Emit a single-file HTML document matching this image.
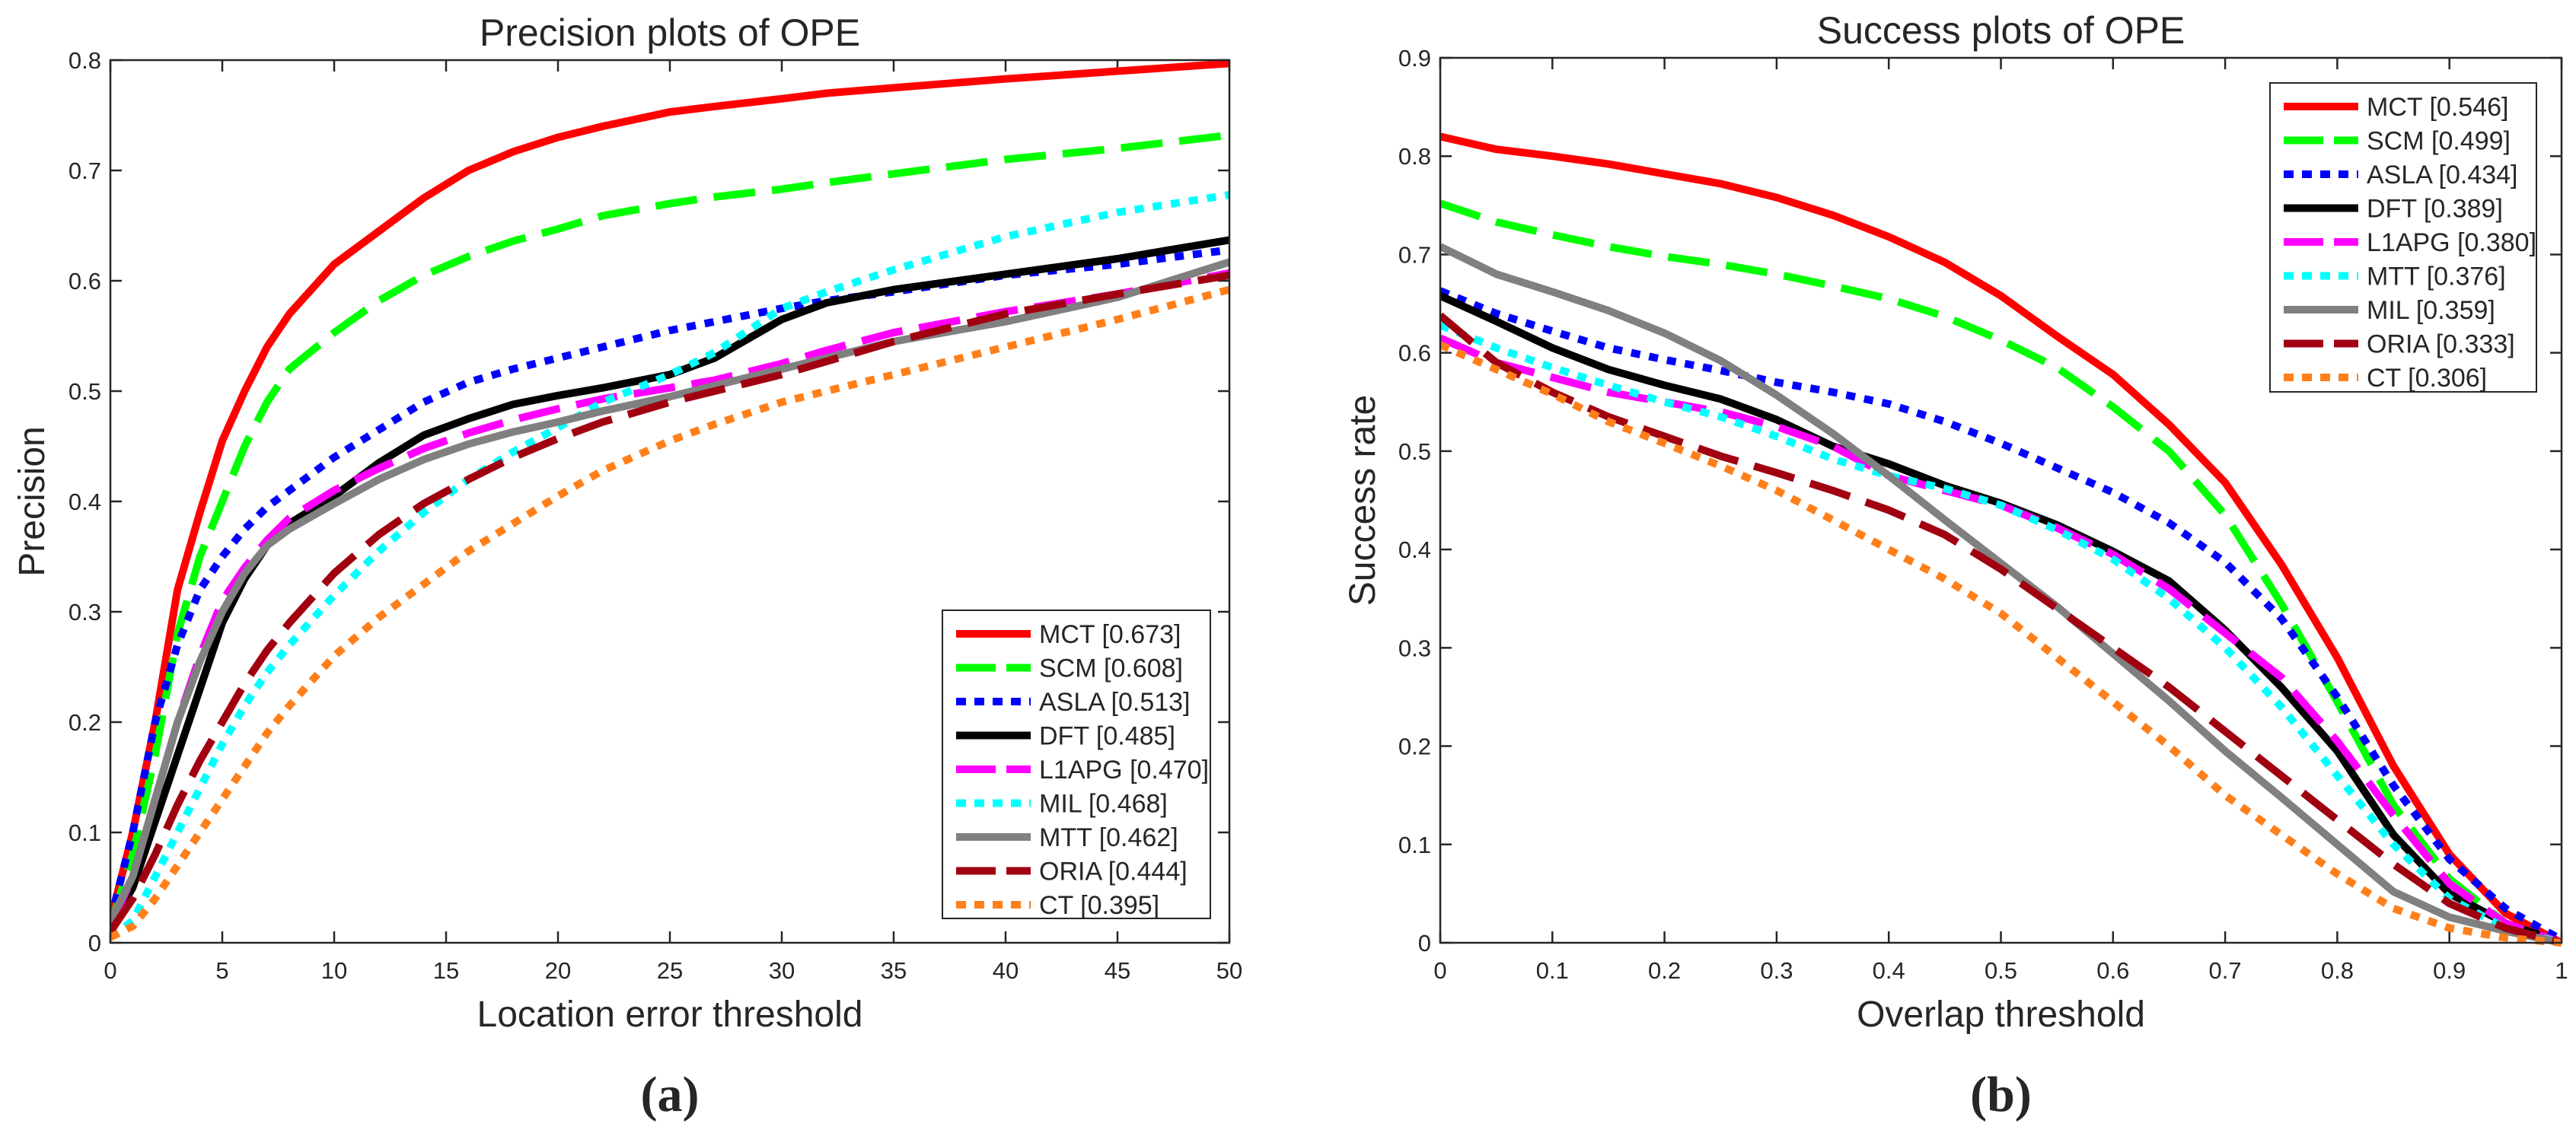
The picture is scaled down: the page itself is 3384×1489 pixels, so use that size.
<!DOCTYPE html>
<html><head><meta charset="utf-8"><style>
html,body{margin:0;padding:0;background:#fff}
svg{display:block}
text{font-family:"Liberation Sans",sans-serif;fill:#262626}
</style></head><body>
<svg id="fig" width="3384" height="1489" viewBox="0 0 3384 1489" xmlns="http://www.w3.org/2000/svg"></svg>
<script>
// ---------- Chart (a): Precision ----------
const precX = [0,1,2,3,4,5,6,7,8,10,12,14,16,18,20,22,25,27,30,32,35,40,45,50];
const precMCT  = [0.02,0.10,0.20,0.32,0.39,0.455,0.50,0.54,0.57,0.615,0.645,0.675,0.70,0.717,0.73,0.74,0.753,0.758,0.765,0.77,0.775,0.783,0.79,0.797];
const precSCM  = [0.015,0.08,0.17,0.28,0.35,0.40,0.45,0.49,0.52,0.553,0.582,0.605,0.622,0.636,0.647,0.659,0.67,0.676,0.683,0.689,0.697,0.71,0.72,0.732];
const precASLA = [0.02,0.10,0.20,0.27,0.32,0.35,0.375,0.395,0.41,0.44,0.465,0.49,0.508,0.52,0.53,0.54,0.555,0.563,0.575,0.582,0.59,0.605,0.615,0.628];
const precDFT  = [0.015,0.05,0.11,0.17,0.23,0.29,0.33,0.36,0.38,0.405,0.435,0.46,0.475,0.488,0.496,0.503,0.515,0.53,0.565,0.58,0.592,0.606,0.62,0.637];
const precL1   = [0.015,0.06,0.13,0.20,0.26,0.31,0.34,0.365,0.385,0.41,0.43,0.448,0.462,0.474,0.484,0.493,0.503,0.51,0.525,0.537,0.553,0.572,0.588,0.607];
const precMIL  = [0.005,0.02,0.06,0.10,0.14,0.18,0.215,0.245,0.27,0.315,0.355,0.39,0.42,0.445,0.467,0.49,0.515,0.535,0.575,0.59,0.61,0.64,0.662,0.678];
const precMTT  = [0.02,0.06,0.13,0.20,0.255,0.30,0.335,0.36,0.375,0.398,0.42,0.438,0.452,0.463,0.472,0.482,0.495,0.505,0.52,0.53,0.545,0.563,0.585,0.617];
const precORIA = [0.01,0.04,0.08,0.125,0.165,0.20,0.235,0.265,0.29,0.335,0.37,0.398,0.42,0.44,0.457,0.472,0.49,0.50,0.515,0.527,0.545,0.57,0.588,0.605];
const precCT   = [0.005,0.015,0.04,0.07,0.10,0.13,0.16,0.19,0.215,0.26,0.295,0.325,0.355,0.38,0.405,0.428,0.455,0.47,0.49,0.50,0.515,0.54,0.565,0.592];
const precXTicks = [0,5,10,15,20,25,30,35,40,45,50];
const precYTicks = [0,0.1,0.2,0.3,0.4,0.5,0.6,0.7,0.8];
const precLegend = ["MCT [0.673]","SCM [0.608]","ASLA [0.513]","DFT [0.485]","L1APG [0.470]","MIL [0.468]","MTT [0.462]","ORIA [0.444]","CT [0.395]"];

// ---------- Chart (b): Success ----------
const succX = [0,0.05,0.1,0.15,0.2,0.25,0.3,0.35,0.4,0.45,0.5,0.55,0.6,0.65,0.7,0.75,0.8,0.85,0.9,0.95,1];
const succMCT  = [0.82,0.807,0.8,0.792,0.782,0.772,0.758,0.74,0.718,0.692,0.658,0.617,0.578,0.527,0.468,0.385,0.29,0.18,0.09,0.03,0];
const succSCM  = [0.752,0.733,0.72,0.708,0.698,0.69,0.68,0.668,0.655,0.637,0.613,0.585,0.545,0.5,0.435,0.345,0.245,0.14,0.065,0.02,0];
const succASLA = [0.663,0.64,0.622,0.605,0.593,0.582,0.57,0.56,0.548,0.53,0.508,0.483,0.458,0.427,0.387,0.33,0.25,0.16,0.085,0.035,0.003];
const succDFT  = [0.658,0.632,0.605,0.583,0.567,0.553,0.532,0.505,0.487,0.465,0.447,0.425,0.398,0.368,0.318,0.26,0.195,0.11,0.05,0.02,0];
const succL1   = [0.615,0.59,0.575,0.56,0.55,0.54,0.525,0.505,0.475,0.46,0.445,0.422,0.395,0.36,0.315,0.27,0.205,0.13,0.06,0.02,0];
const succMTT  = [0.628,0.605,0.585,0.567,0.55,0.535,0.515,0.492,0.475,0.462,0.445,0.42,0.39,0.35,0.3,0.24,0.17,0.1,0.045,0.015,0];
const succMIL  = [0.708,0.68,0.662,0.643,0.62,0.592,0.557,0.518,0.475,0.43,0.386,0.342,0.294,0.246,0.195,0.148,0.1,0.052,0.026,0.012,0];
const succORIA = [0.638,0.59,0.56,0.535,0.515,0.495,0.478,0.46,0.44,0.415,0.38,0.34,0.3,0.26,0.215,0.17,0.125,0.08,0.04,0.015,0];
const succCT   = [0.608,0.583,0.558,0.53,0.508,0.485,0.46,0.43,0.4,0.37,0.335,0.29,0.245,0.2,0.15,0.11,0.07,0.035,0.015,0.005,0];
const succXTicks = [0,0.1,0.2,0.3,0.4,0.5,0.6,0.7,0.8,0.9,1];
const succYTicks = [0,0.1,0.2,0.3,0.4,0.5,0.6,0.7,0.8,0.9];
const succLegend = ["MCT [0.546]","SCM [0.499]","ASLA [0.434]","DFT [0.389]","L1APG [0.380]","MTT [0.376]","MIL [0.359]","ORIA [0.333]","CT [0.306]"];

const NS = "http://www.w3.org/2000/svg";
const svg = document.getElementById('fig');
function mk(tag, attrs, parent){ const e=document.createElementNS(NS,tag); for(const k in attrs) e.setAttribute(k,attrs[k]); (parent||svg).appendChild(e); return e; }

const STY = {
  red:{c:"#ff0000",d:""}, green:{c:"#00ff00",d:"55 22"}, blue:{c:"#0000ff",d:"12 12"},
  black:{c:"#000000",d:""}, magenta:{c:"#ff00ff",d:"55 22"}, cyan:{c:"#00ffff",d:"12 12"},
  gray:{c:"#808080",d:""}, dred:{c:"#a00010",d:"55 22"}, orange:{c:"#ff7f1a",d:"12 12"}
};

function chart(cfg){
  const g = mk('g',{});
  
  
  const {L,R,T,B,xmin,xmax,ymax} = cfg;
  const sx = v => L + (v - xmin)/(xmax - xmin)*(R-L);
  const sy = v => B - v/ymax*(B-T);
  cfg.xTicks.forEach(t=>{
    const x=sx(t);
    const tk=mk('path',{d:`M${x},${B}V${B-15}M${x},${T}V${T+15}`,stroke:"#262626","stroke-width":2.5},g);
    
    
    const tx=mk('text',{x:x,y:B+47,"font-size":31,"text-anchor":"middle"},g);
    tx.textContent=String(t);
    
    
  });
  cfg.yTicks.forEach(t=>{
    const y=sy(t);
    const tk=mk('path',{d:`M${L},${y}H${L+15}M${R},${y}H${R-15}`,stroke:"#262626","stroke-width":2.5},g);
    
    
    const tx=mk('text',{x:L-12,y:y+11,"font-size":31,"text-anchor":"end"},g);
    tx.textContent=String(t);
    
    
  });
  const clip = mk('clipPath',{id:cfg.name+'-clip'},g);
  mk('rect',{x:L,y:T-6,width:R-L,height:B-T+12},clip);
  cfg.series.forEach(s=>{
    const st=STY[s.style];
    const d=cfg.x.map((xv,i)=>(i?'L':'M')+sx(xv).toFixed(1)+','+sy(s.v[i]).toFixed(1)).join('');
    const p=mk('path',{d:d,fill:"none",stroke:st.c,"stroke-width":10,"stroke-linejoin":"round","clip-path":`url(#${cfg.name}-clip)`},g);
    if(st.d) p.setAttribute('stroke-dasharray',st.d);
    
    
  });
  const box=mk('rect',{x:L,y:T,width:R-L,height:B-T,fill:"none",stroke:"#262626","stroke-width":2.5},g);
  
  
  const ti=mk('text',{x:(L+R)/2,y:cfg.titleY,"font-size":50,"text-anchor":"middle",fill:"#000"},g);
  ti.textContent=cfg.title;
  
  
  const xl=mk('text',{x:(L+R)/2,y:1349,"font-size":48,"text-anchor":"middle"},g);
  xl.textContent=cfg.xLabel;
  
  
  const yl=mk('text',{x:0,y:0,"font-size":48,"text-anchor":"middle",transform:`translate(${cfg.yLabelX},${(T+B)/2}) rotate(-90)`},g);
  yl.textContent=cfg.yLabel;
  
  
  const cap=mk('text',{x:(L+R)/2,y:1460,"font-size":66,"font-weight":"bold","text-anchor":"middle",fill:"#000",style:"font-family:'Liberation Serif',serif"},g);
  cap.textContent=cfg.caption;
  
  
  const lg=mk('g',{},g);
  
  
  const [lx,ly,lw,lh]=cfg.legendBox;
  mk('rect',{x:lx,y:ly,width:lw,height:lh,fill:"#fff",stroke:"#262626","stroke-width":2},lg);
  cfg.series.forEach((s,i)=>{
    const st=STY[s.style];
    const cy=ly+31+i*44.5;
    const e=mk('g',{},lg);
    
    
    const ln=mk('line',{x1:lx+18,x2:lx+116,y1:cy,y2:cy,stroke:st.c,"stroke-width":10},e);
    if(st.d) ln.setAttribute('stroke-dasharray', st.d==="12 12"?"13 11":"52 14");
    const t=mk('text',{x:lx+127,y:cy+12,"font-size":34,fill:"#000"},e);
    t.textContent=cfg.legend[i];
  });
}

chart({name:'precision-chart',L:145,R:1615,T:79,B:1239,xmin:0,xmax:50,ymax:0.8,
  x:precX,xTicks:precXTicks,yTicks:precYTicks,legend:precLegend,
  title:'Precision plots of OPE',titleY:60,xLabel:'Location error threshold',yLabel:'Precision',yLabelX:58,caption:'(a)',
  legendBox:[1238,802,352,405],
  series:[{key:'mct',style:'red',v:precMCT},{key:'scm',style:'green',v:precSCM},{key:'asla',style:'blue',v:precASLA},
    {key:'dft',style:'black',v:precDFT},{key:'l1apg',style:'magenta',v:precL1},{key:'mil',style:'cyan',v:precMIL},
    {key:'mtt',style:'gray',v:precMTT},{key:'oria',style:'dred',v:precORIA},{key:'ct',style:'orange',v:precCT}]});

chart({name:'success-chart',L:1892,R:3365,T:76,B:1239,xmin:0,xmax:1,ymax:0.9,
  x:succX,xTicks:succXTicks,yTicks:succYTicks,legend:succLegend,
  title:'Success plots of OPE',titleY:57,xLabel:'Overlap threshold',yLabel:'Success rate',yLabelX:1806,caption:'(b)',
  legendBox:[2982,109,350,406],
  series:[{key:'mct',style:'red',v:succMCT},{key:'scm',style:'green',v:succSCM},{key:'asla',style:'blue',v:succASLA},
    {key:'dft',style:'black',v:succDFT},{key:'l1apg',style:'magenta',v:succL1},{key:'mtt',style:'cyan',v:succMTT},
    {key:'mil',style:'gray',v:succMIL},{key:'oria',style:'dred',v:succORIA},{key:'ct',style:'orange',v:succCT}]});
</script>
</body></html>
